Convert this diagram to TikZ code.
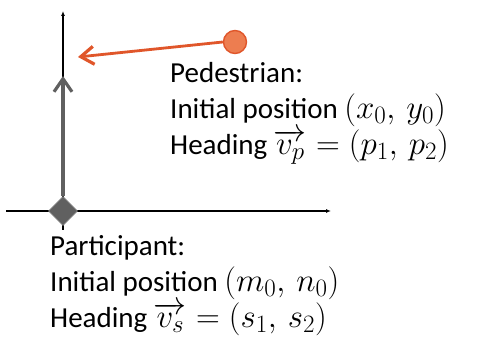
\documentclass[tikz,border=0pt]{standalone}
\usepackage{fix-cm}
\usepackage{fontspec}
\setmainfont{Carlito}
\DeclareMathSizes{33}{33}{25}{20}
\usetikzlibrary{arrows.meta,shapes.geometric}
\definecolor{orline}{HTML}{E0562A}
\definecolor{orfill}{HTML}{ED7D50}
\definecolor{grayc}{HTML}{606060}
\newcommand\mymath[1]{{\fontsize{33}{35}\selectfont$#1$}}
\tikzset{
  axis/.style={black, line width=1.1pt, -{Latex[length=5pt,width=4pt]}},
  lbl/.style={anchor=base west, inner sep=0pt, font=\fontsize{29}{35}\selectfont},
  heading/.style={line width=3.2pt, -{Straight Barb[length=13pt,width=18pt,line width=3.2pt]}},
}
\begin{document}
\begin{tikzpicture}[x=1pt,y=-1pt]
\useasboundingbox (0,0) rectangle (485,347);
% axes
\coordinate (ybot) at (63,230);
\coordinate (ytop) at (63,11);
\coordinate (xl) at (6,211);
\coordinate (xr) at (331,211);
\draw[axis] (ybot) -- (ytop);
\draw[axis] (xl) -- (xr);
% participant
\node[diamond, fill=grayc, draw=grayc!80!white, line width=0.8pt, minimum width=29pt, minimum height=29pt, inner sep=0pt] (part) at (63,211) {};
\coordinate (ptip) at (63,76);
\draw[heading, grayc] (part.north) -- (ptip);
% pedestrian
\node[circle, fill=orfill, draw=orline, line width=1.4pt, minimum size=23pt, inner sep=0pt] (ped) at (235,42) {};
\coordinate (otip) at (78,57);
\draw[heading, orline, line width=2.8pt] (ped.west) -- (otip);
% labels
\node[lbl] (p1) at (170,83) {Pedestrian:};
\node[lbl] (p2) at (170,119) {Initial position \mymath{(x_0,\,y_0)}};
\node[lbl] (p3) at (170,155) {Heading \mymath{\overrightarrow{v_p}=(p_1,\,p_2)}};
\node[lbl] (s1) at (50,256) {Participant:};
\node[lbl] (s2) at (50,292) {Initial position \mymath{(m_0,\,n_0)}};
\node[lbl] (s3) at (50,328) {Heading \mymath{\overrightarrow{v_s}=(s_1,\,s_2)}};
\end{tikzpicture}
\end{document}
